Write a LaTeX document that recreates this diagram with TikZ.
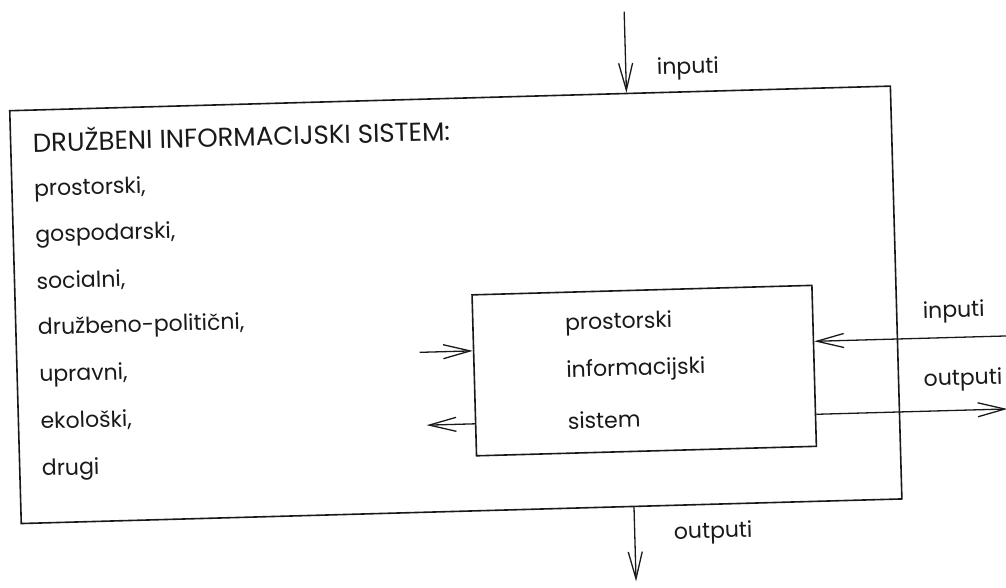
\documentclass[tikz,border=0pt]{standalone}
\usepackage{fontspec}
\setmainfont{Poppins}
\usetikzlibrary{arrows.meta}

\tikzset{
  box/.style={draw=black!90, line width=1.6pt, rectangle, inner sep=0pt},
  lbl/.style={anchor=base west, inner sep=0pt, font=\fontsize{22}{26}\selectfont, text=black!90},
  caps/.style={lbl, font=\fontsize{26}{30}\selectfont},
  flow/.style={draw=black!90, line width=1.3pt, -{Straight Barb[length=27pt, width=14pt, line width=1.3pt]}},
}

\begin{document}
\begin{tikzpicture}[x=1pt, y=-1pt]
  \useasboundingbox (0,0) rectangle (1006,587);
  \begin{scope}[rotate around={1.6:(503,293)}, transform shape]
    % society-wide information system (outer frame) and the spatial subsystem inside it
    \node[box, minimum width=881pt, minimum height=413pt] (dis) at (455.5,303.5) {};
    \node[box, minimum width=340pt, minimum height=161pt] (pis) at (642,374.5) {};

    % list of subsystems in the outer frame
    \node[caps] (title) at (37,139) {DRUŽBENI INFORMACIJSKI SISTEM:};
    \node[lbl] (l1) at (37,183) {prostorski,};
    \node[lbl] (l2) at (37,229) {gospodarski,};
    \node[lbl] (l3) at (37,276) {socialni,};
    \node[lbl] (l4) at (37,322) {družbeno-politični,};
    \node[lbl] (l5) at (37,369) {upravni,};
    \node[lbl] (l6) at (37,416) {ekološki,};
    \node[lbl] (l7) at (37,463) {drugi};

    % name of the inner system
    \node[lbl] (p1) at (564,332) {prostorski};
    \node[lbl] (p2) at (564,379) {informacijski};
    \node[lbl] (p3) at (564,431) {sistem};

    % inputs and outputs of the outer system
    \coordinate (topsrc) at (632,15);
    \coordinate (botdst) at (628,585);
    \draw[flow] (topsrc) -- (topsrc |- dis.north);
    \draw[flow] (botdst |- dis.south) -- (botdst);
    \node[lbl] (inTop) at (663,79) {inputi};
    \node[lbl] (outBot) at (667,544) {outputi};

    % inputs and outputs of the inner system from outside
    \coordinate (rin) at (1006,350);
    \coordinate (rout) at (1004,423);
    \draw[flow] (rin) -- (rin -| pis.east);
    \draw[flow] (rout -| pis.east) -- (rout);
    \node[lbl] (inR) at (922,330) {inputi};
    \node[lbl] (outR) at (921,398) {outputi};

    % exchange between the inner system and the rest of the outer one
    \coordinate (lin) at (418,350);
    \coordinate (lout) at (423,423);
    \draw[flow] (lin) -- (lin -| pis.west);
    \draw[flow] (lout -| pis.west) -- (lout);
  \end{scope}
\end{tikzpicture}
\end{document}
